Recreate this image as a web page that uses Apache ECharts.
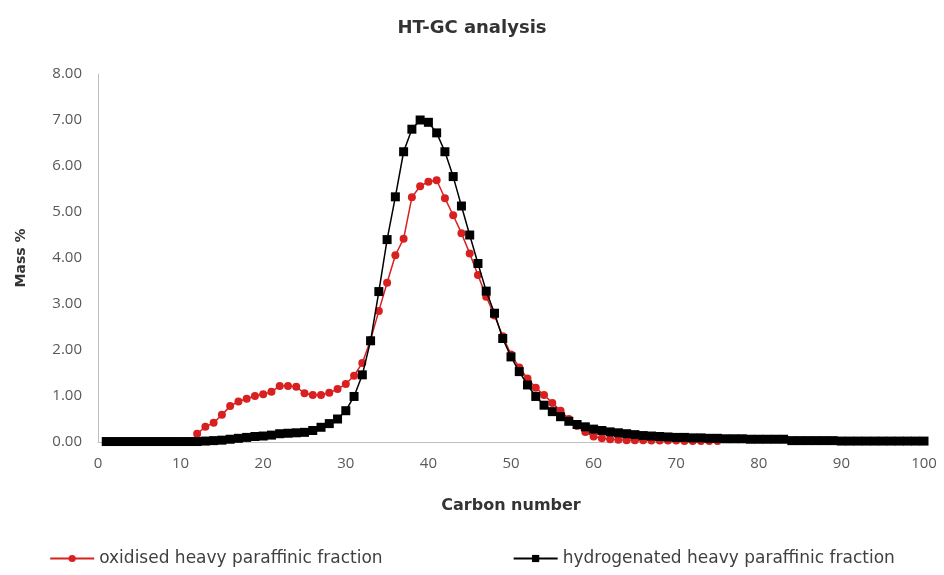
<!DOCTYPE html>
<html>
<head>
<meta charset="utf-8">
<script src="https://cdn.jsdelivr.net/npm/echarts@6/dist/echarts.min.js"></script>
<style>
  html, body { margin: 0; padding: 0; background: #fff; }
  #chart { width: 944px; height: 575px; }
</style>
</head>
<body>
<div id="chart"></div>
<script>
// carbon numbers for each series
const hydroCarbons = [];
for (let c = 1; c <= 100; c++) hydroCarbons.push(c);
const oxiCarbons = [];
for (let c = 12; c <= 75; c++) oxiCarbons.push(c);

// Mass %
const oxidisedMass = [
  0.18, 0.33, 0.42, 0.59, 0.78, 0.88, 0.94, 1.00, 1.04, 1.09, // 12-21
  1.22, 1.22, 1.20, 1.06, 1.02, 1.02, 1.07, 1.15, 1.26, 1.44, // 22-31
  1.72, 2.22, 2.85, 3.46, 4.06, 4.42, 5.32, 5.56, 5.66, 5.69, // 32-41
  5.30, 4.93, 4.54, 4.10, 3.63, 3.16, 2.75, 2.30, 1.90, 1.62, // 42-51
  1.38, 1.18, 1.02, 0.85, 0.68, 0.50, 0.35, 0.22, 0.12, 0.08, // 52-61
  0.06, 0.05, 0.04, 0.04, 0.04, 0.03, 0.03, 0.03, 0.03, 0.02, // 62-71
  0.02, 0.02, 0.02, 0.02                                      // 72-75
];
const hydrogenatedMass = [
  0.01, 0.01, 0.01, 0.01, 0.01, 0.01, 0.01, 0.01, 0.01, 0.01, // 1-10
  0.01, 0.01, 0.02, 0.03, 0.04, 0.06, 0.08, 0.10, 0.12, 0.13, // 11-20
  0.15, 0.18, 0.19, 0.20, 0.21, 0.25, 0.32, 0.40, 0.50, 0.68, // 21-30
  0.99, 1.46, 2.20, 3.27, 4.40, 5.33, 6.31, 6.80, 7.00, 6.95, // 31-40
  6.72, 6.31, 5.77, 5.13, 4.50, 3.88, 3.28, 2.80, 2.25, 1.85, // 41-50
  1.53, 1.24, 0.99, 0.80, 0.66, 0.55, 0.45, 0.38, 0.33, 0.28, // 51-60
  0.25, 0.22, 0.20, 0.18, 0.16, 0.14, 0.13, 0.12, 0.11, 0.10, // 61-70
  0.10, 0.09, 0.09, 0.08, 0.08, 0.07, 0.07, 0.07, 0.06, 0.06, // 71-80
  0.06, 0.06, 0.06, 0.03, 0.03, 0.03, 0.03, 0.03, 0.03, 0.02, // 81-90
  0.02, 0.02, 0.02, 0.02, 0.02, 0.02, 0.02, 0.02, 0.02, 0.02  // 91-100
];

const seriesNames = ["oxidised heavy paraffinic fraction", "hydrogenated heavy paraffinic fraction"];

const font = "'Open Sans', 'DejaVu Sans', sans-serif";
const wide = "'DejaVu Sans', sans-serif";
const chart = echarts.init(document.getElementById("chart"));
chart.setOption({
  animation: false,
  backgroundColor: "#fff",
  textStyle: { fontFamily: font },
  title: {
    text: "HT-GC analysis",
    left: "center",
    top: 14,
    textStyle: { fontSize: 18, fontWeight: "bold", color: "#333", fontFamily: wide }
  },
  grid: { left: 98, right: 20, top: 74, bottom: 133 },
  legend: {
    bottom: 3,
    left: "center",
    itemGap: 130,
    itemWidth: 44,
    itemHeight: 9,
    textStyle: { fontSize: 17, color: "#404040", fontFamily: wide },
    data: seriesNames
  },
  xAxis: {
    type: "value",
    min: 0,
    max: 100,
    interval: 10,
    name: "Carbon number",
    nameLocation: "middle",
    nameGap: 56,
    nameTextStyle: { fontSize: 16, fontWeight: "bold", color: "#333", fontFamily: wide },
    axisLine: { lineStyle: { color: "#bfbfbf" } },
    axisTick: { show: false },
    splitLine: { show: false },
    axisLabel: { fontSize: 15, color: "#595959", margin: 14 }
  },
  yAxis: {
    type: "value",
    min: 0,
    max: 8,
    interval: 1,
    name: "Mass %",
    nameLocation: "middle",
    nameGap: 70,
    nameTextStyle: { fontSize: 14, fontWeight: "bold", color: "#333", fontFamily: wide },
    axisLine: { show: true, lineStyle: { color: "#bfbfbf" } },
    axisTick: { show: false },
    splitLine: { show: false },
    axisLabel: {
      fontSize: 15,
      color: "#595959",
      margin: 16,
      formatter: function (v) { return v.toFixed(2); }
    }
  },
  series: [
    {
      name: seriesNames[0],
      type: "line",
      data: oxiCarbons.map((c, i) => [c, oxidisedMass[i]]),
      symbol: "circle",
      symbolSize: 8,
      showAllSymbol: true,
      lineStyle: { color: "#d92020", width: 1.5 },
      itemStyle: { color: "#d92020" },
      z: 2
    },
    {
      name: seriesNames[1],
      type: "line",
      data: hydroCarbons.map((c, i) => [c, hydrogenatedMass[i]]),
      symbol: "rect",
      symbolSize: 9,
      showAllSymbol: true,
      lineStyle: { color: "#000", width: 1.5 },
      itemStyle: { color: "#000" },
      z: 3
    }
  ]
});
</script>
</body>
</html>
